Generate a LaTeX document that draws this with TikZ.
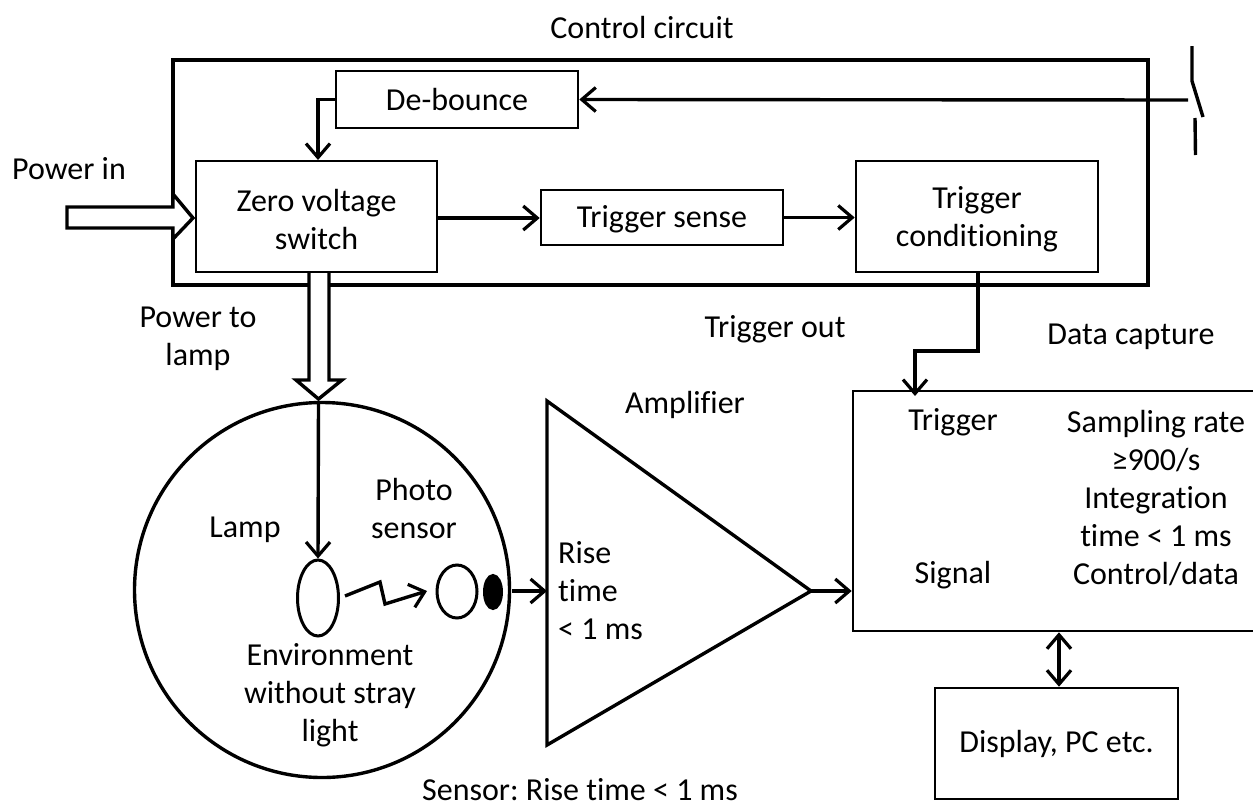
\documentclass[tikz,border=0pt]{standalone}
\usepackage{fontspec}
\setmainfont{Carlito}[Ligatures=CommonOff]
\usetikzlibrary{arrows.meta,shapes.geometric}
\tikzset{
  x=1pt,y=-1pt,
  wire/.style={line width=3.4pt,-{Straight Barb[length=14pt,width=24pt,line width=3.2pt]}},
  plain/.style={line width=3.4pt},
  boxn/.style={draw=black,line width=2.6pt,rectangle,inner sep=0pt,align=center,font=\fontsize{32}{38}\selectfont},
  lbl/.style={inner sep=0pt,align=center,font=\fontsize{32}{38}\selectfont},
  hollow/.style={draw=black,fill=white,line width=3.4pt,miter limit=3},
  oval/.style={draw=black,ellipse,line width=3pt,inner sep=0pt},
}
\newcommand{\boxat}[6]{\node[boxn,minimum width=#4 pt,minimum height=#5 pt] (#1) at (#2,#3) {#6};}
\begin{document}
\begin{tikzpicture}
\useasboundingbox (0,0) rectangle (1253,806);
% enclosures
\node[draw=black,line width=3.6pt,rectangle,inner sep=0pt,minimum width=975pt,minimum height=225pt] (control) at (660.5,172.5) {};
\boxat{debounce}{457}{99.5}{242}{57}{De-bounce}
\boxat{zero}{316.5}{216.5}{241}{111}{\rule{0pt}{28pt}Zero voltage\\switch}
\boxat{tsense}{662}{217.5}{242}{55}{\rule{0pt}{26pt}Trigger sense}
\boxat{tcond}{977}{216.5}{242}{111}{\rule{0pt}{28pt}Trigger\\conditioning}
\boxat{capture}{1054}{511}{402}{240}{}
\boxat{display}{1056.5}{743.5}{243}{111}{Display, PC etc.}
\node[draw=black,circle,line width=3.4pt,inner sep=0pt,minimum size=375pt] (env) at (322,590) {};
\node[oval,minimum width=41pt,minimum height=76pt] (lamp) at (318,598) {};
\node[oval,minimum width=40pt,minimum height=53pt] (photo) at (457,591.5) {};
\node[oval,fill=black,minimum width=17pt,minimum height=33pt] (cell) at (493,592) {};
\coordinate (ampa) at (547,401);
\coordinate (ampb) at (547,745);
\coordinate (ampc) at (811,591);
\draw[line width=3.4pt,line join=miter] (ampa) -- (ampc) -- (ampb) -- cycle;
% hollow arrows
\draw[hollow] (67,207) -- (173,207) -- (173,194) -- (193,218) -- (173,239) -- (173,228) -- (67,228) -- cycle;
\draw[hollow] (309,273) -- (309,380) -- (296,380) -- (318.5,399) -- (342,380) -- (329,380) -- (329,273);
% connectors
\coordinate (swA) at (1188,100);
\draw[wire] (swA) -- (debounce.east);
\draw[wire] (debounce.west) -| (318,160);
\draw[wire] (zero.east |- 0,218) -- (tsense.west |- 0,218);
\draw[wire] (tsense.east) -- (tcond.west |- tsense.east);
\coordinate (tbend) at (978,351);
\coordinate (tend) at (915,396);
\draw[wire] (tcond.south -| tbend) -- (tbend) -- (tend |- tbend) -- (tend);
\coordinate (top) at (318.5,402);
\draw[wire] (top) -- (lamp.north);
\coordinate (l1) at (345,596);
\coordinate (l2) at (380,582);
\coordinate (l3) at (385,604);
\coordinate (l4) at (427,591);
\draw[wire] (l1) -- (l2) -- (l3) -- (l4);
\coordinate (senseout) at (512,591);
\draw[wire] (senseout) -- (ampa |- senseout);
\draw[wire] (ampc) -- (capture.west |- ampc);
\draw[plain,{Straight Barb[length=14pt,width=24pt,line width=3.2pt]}-{Straight Barb[length=14pt,width=24pt,line width=3.2pt]}] (capture.south -| 1059,0) -- (display.north -| 1059,0);
% switch
\coordinate (s1) at (1192,46);
\coordinate (s2) at (1192,81);
\coordinate (s3) at (1203,117);
\coordinate (s4) at (1195,118);
\coordinate (s5) at (1195.5,155);
\draw[plain] (s1) -- (s2) -- (s3);
\draw[plain] (s4) -- (s5);
% labels
\node[lbl] (t1) at (642,28) {Control circuit};
\node[lbl] (t2) at (69,169) {Power in};
\node[lbl] (t3) at (198,339) {Power to\\lamp};
\node[lbl] (t4) at (775,329) {Trigger out};
\node[lbl] (t5) at (1131,337) {Data capture};
\node[lbl] (t6) at (685,405) {Amplifier};
\node[lbl] (t7) at (953,422) {Trigger};
\node[lbl] (t8) at (1156,498) {Sampling rate\\≥900/s\\Integration\\time < 1 ms\\Control/data};
\node[lbl] (t9) at (953,575) {Signal};
\node[lbl,align=left,anchor=west] (t10) at (558,591) {Rise\\time\\< 1 ms};
\node[lbl] (t11) at (245,530) {Lamp};
\node[lbl] (t12) at (414,509) {Photo\\sensor};
\node[lbl] (t13) at (330,695) {Environment\\without stray\\light};
\node[lbl,font=\fontsize{32}{38}\selectfont\frenchspacing] (t14) at (580,790) {Sensor: Rise time < 1 ms};
\end{tikzpicture}
\end{document}
